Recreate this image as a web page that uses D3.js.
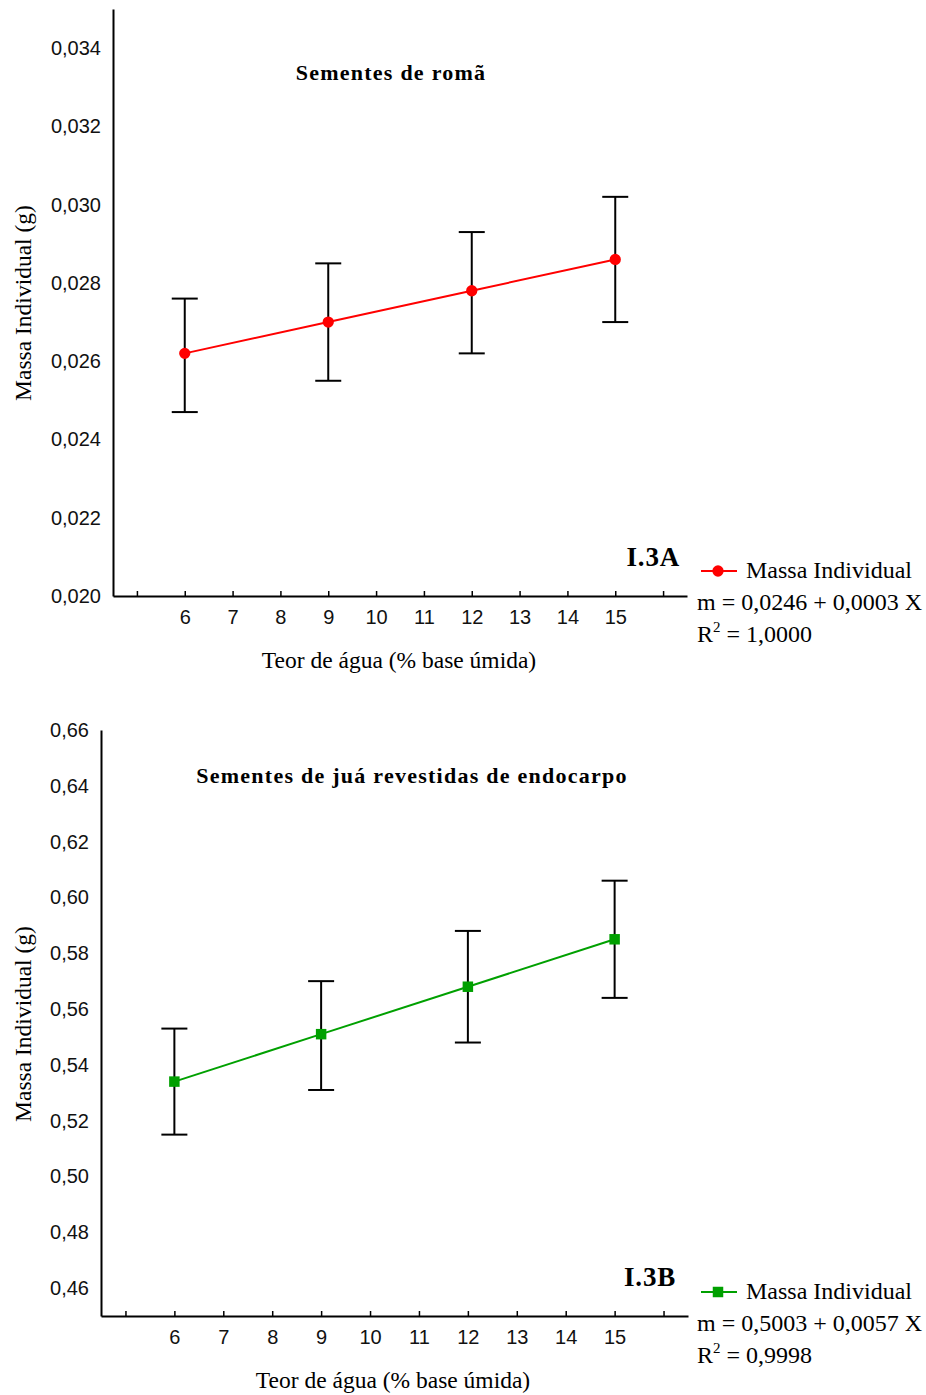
<!DOCTYPE html>
<html>
<head>
<meta charset="utf-8">
<script src="https://cdn.jsdelivr.net/npm/d3@7"></script>
<style>
  body { margin: 0; background: #fff; }
  svg { display: block; }
</style>
</head>
<body>
<script>
// water content (x) shared by both panels
const teor = [6, 9, 12, 15];
const xTicks = [5, 6, 7, 8, 9, 10, 11, 12, 13, 14, 15, 16];
const xLabels = [6, 7, 8, 9, 10, 11, 12, 13, 14, 15];

// panel A - pomegranate seeds
const massaA = [0.0262, 0.0270, 0.0278, 0.0286];
const supA = [0.0276, 0.0285, 0.0293, 0.0302];
const infA = [0.0247, 0.0255, 0.0262, 0.0270];
const yTicksA = [0.020, 0.022, 0.024, 0.026, 0.028, 0.030, 0.032, 0.034];

// panel B - jua seeds with endocarp
const massaB = [0.534, 0.551, 0.568, 0.585];
const supB = [0.553, 0.570, 0.588, 0.606];
const infB = [0.515, 0.531, 0.548, 0.564];
const yTicksB = [0.46, 0.48, 0.50, 0.52, 0.54, 0.56, 0.58, 0.60, 0.62, 0.64, 0.66];

const W = 926, H = 1395;
const serif = '"Liberation Serif", "Times New Roman", serif';
const sans = '"Liberation Sans", Arial, sans-serif';

const ptBR = d3.formatLocale({ decimal: ',', thousands: '.', grouping: [3], currency: ['', ''] });

const svg = d3.select('body').append('svg')
  .attr('width', W)
  .attr('height', H);

function painel(cfg) {
  const x = d3.scaleLinear().domain([4.5, 16.5]).range(cfg.xr);
  const y = d3.scaleLinear().domain(cfg.yd).range(cfg.yr);
  const g = svg.append('g');
  const fmt = ptBR.format(cfg.fmt);

  // y axis, no tick marks
  const ay = g.append('g')
    .attr('transform', 'translate(' + cfg.xr[0] + ',0)')
    .call(d3.axisLeft(y).tickValues(cfg.yTicks).tickFormat(fmt).tickSize(0).tickPadding(12));
  ay.select('.domain').attr('stroke', '#000').attr('stroke-width', 2);
  ay.selectAll('text').attr('font-family', sans).attr('font-size', 20).attr('fill', '#111');

  // x axis, small ticks pointing inside
  const ax = g.append('g')
    .attr('transform', 'translate(0,' + cfg.yr[0] + ')')
    .call(d3.axisBottom(x).tickValues(xTicks).tickSizeInner(-5).tickSizeOuter(0).tickPadding(14)
      .tickFormat(d => xLabels.includes(d) ? d : ''));
  ax.select('.domain').attr('stroke', '#000').attr('stroke-width', 2);
  ax.selectAll('.tick line').attr('stroke', '#000').attr('stroke-width', 1.5);
  ax.selectAll('text').attr('font-family', sans).attr('font-size', 20).attr('fill', '#111');

  // axis titles
  g.append('text')
    .attr('transform', 'translate(31,' + cfg.yLabelY + ') rotate(-90)')
    .attr('text-anchor', 'middle')
    .attr('font-family', serif).attr('font-size', 23.5)
    .text('Massa Individual (g)');

  g.append('text')
    .attr('x', cfg.xLabelX).attr('y', cfg.yr[0] + 72)
    .attr('text-anchor', 'middle')
    .attr('font-family', serif).attr('font-size', 23.5)
    .text('Teor de água (% base úmida)');

  g.append('text')
    .attr('x', cfg.tituloX).attr('y', cfg.tituloY)
    .attr('text-anchor', 'middle')
    .attr('font-family', serif).attr('font-size', 22).attr('font-weight', 'bold')
    .attr('letter-spacing', 1.25)
    .text(cfg.titulo);

  g.append('text')
    .attr('x', cfg.painelX).attr('y', cfg.yr[0] - 30)
    .attr('text-anchor', 'end')
    .attr('font-family', serif).attr('font-size', 27).attr('font-weight', 'bold')
    .attr('letter-spacing', 0.8)
    .text(cfg.painel);

  const pts = teor.map((t, i) => ({ t: t, m: cfg.massa[i], s: cfg.sup[i], n: cfg.inf[i] }));

  // error bars
  const eb = g.append('g').attr('stroke', '#000').attr('stroke-width', 2);
  eb.selectAll('line.v').data(pts).join('line')
    .attr('x1', d => x(d.t)).attr('x2', d => x(d.t))
    .attr('y1', d => y(d.s)).attr('y2', d => y(d.n));
  eb.selectAll('line.cs').data(pts).join('line')
    .attr('x1', d => x(d.t) - 13).attr('x2', d => x(d.t) + 13)
    .attr('y1', d => y(d.s)).attr('y2', d => y(d.s));
  eb.selectAll('line.ci').data(pts).join('line')
    .attr('x1', d => x(d.t) - 13).attr('x2', d => x(d.t) + 13)
    .attr('y1', d => y(d.n)).attr('y2', d => y(d.n));

  g.append('path')
    .datum(pts)
    .attr('fill', 'none')
    .attr('stroke', cfg.cor)
    .attr('stroke-width', 2)
    .attr('d', d3.line().x(d => x(d.t)).y(d => y(d.m)));

  const sym = d3.symbol().type(cfg.simbolo).size(cfg.simbolo === d3.symbolCircle ? 100 : 110);
  g.selectAll('path.mk').data(pts).join('path')
    .attr('transform', d => 'translate(' + x(d.t) + ',' + y(d.m) + ')')
    .attr('d', sym)
    .attr('fill', cfg.cor);

  // legend
  const lg = g.append('g').attr('transform', 'translate(0,' + cfg.legY + ')');
  lg.append('line')
    .attr('x1', 701).attr('x2', 737).attr('y1', -7).attr('y2', -7)
    .attr('stroke', cfg.cor).attr('stroke-width', 2);
  lg.append('path')
    .attr('transform', 'translate(718,-7)')
    .attr('d', sym)
    .attr('fill', cfg.cor);
  lg.append('text')
    .attr('x', 746).attr('y', 0)
    .attr('font-family', serif).attr('font-size', 24)
    .text('Massa Individual');
  lg.append('text')
    .attr('x', 697).attr('y', 32)
    .attr('font-family', serif).attr('font-size', 24)
    .text(cfg.equacao);
  const r2 = lg.append('text')
    .attr('x', 697).attr('y', 64)
    .attr('font-family', serif).attr('font-size', 24);
  r2.append('tspan').text('R');
  r2.append('tspan').attr('font-size', 15).attr('dy', -10).text('2');
  r2.append('tspan').attr('dy', 10).text(' = ' + cfg.r2);
}

painel({
  xr: [113, 687], yd: [0.020, 0.035], yr: [596, 9],
  yTicks: yTicksA, fmt: '.3f',
  massa: massaA, sup: supA, inf: infA,
  cor: '#ff0000', simbolo: d3.symbolCircle,
  titulo: 'Sementes de romã', tituloX: 391, tituloY: 80,
  painel: 'I.3A', painelX: 680,
  yLabelY: 303, xLabelX: 399,
  legY: 578, equacao: 'm = 0,0246 + 0,0003 X', r2: '1,0000'
});

painel({
  xr: [101, 688], yd: [0.45, 0.66], yr: [1316, 730],
  yTicks: yTicksB, fmt: '.2f',
  massa: massaB, sup: supB, inf: infB,
  cor: '#00a000', simbolo: d3.symbolSquare,
  titulo: 'Sementes de juá revestidas de endocarpo', tituloX: 412, tituloY: 783,
  painel: 'I.3B', painelX: 676,
  yLabelY: 1024, xLabelX: 393,
  legY: 1299, equacao: 'm = 0,5003 + 0,0057 X', r2: '0,9998'
});
</script>
</body>
</html>
